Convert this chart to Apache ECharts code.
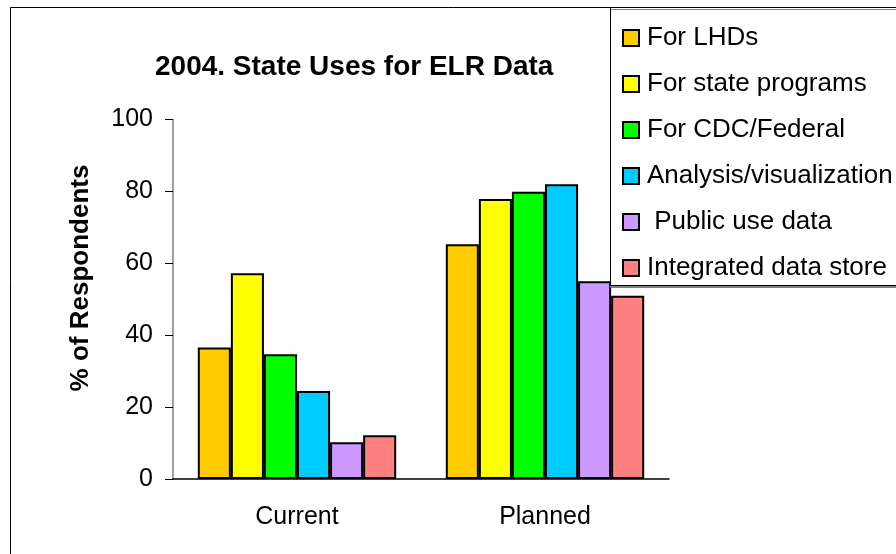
<!DOCTYPE html>
<html>
<head>
<meta charset="utf-8">
<script src="https://cdn.jsdelivr.net/npm/echarts@6/dist/echarts.min.js"></script>
<style>
html,body{margin:0;padding:0;background:#fff;}
#chart{width:896px;height:554px;}
</style>
</head>
<body>
<div id="chart"></div>
<script>
var categories = ['Current', 'Planned'];
var seriesNames = ['For LHDs', 'For state programs', 'For CDC/Federal', 'Analysis/visualization', ' Public use data', 'Integrated data store'];
var forLHDs = [36.6, 65.3];
var forStatePrograms = [57.2, 77.9];
var forCDCFederal = [34.7, 79.9];
var analysisVisualization = [24.5, 82.0];
var publicUseData = [10.2, 55.0];
var integratedDataStore = [12.2, 51.0];
var seriesColors = ['#FFCC00', '#FFFF00', '#00FF00', '#00CCFF', '#CC99FF', '#FF8080'];
var yTicks = [0, 20, 40, 60, 80, 100];

var allValues = [forLHDs, forStatePrograms, forCDCFederal, analysisVisualization, publicUseData, integratedDataStore];
var FONT = 'Liberation Sans, Arial, sans-serif';

var chart = echarts.init(document.getElementById('chart'));
var series = seriesNames.map(function (n, i) {
  return {
    name: n,
    type: 'bar',
    data: allValues[i],
    barGap: '0%',
    barCategoryGap: '20%',
    itemStyle: { color: seriesColors[i], borderColor: '#000', borderWidth: 2 }
  };
});

chart.setOption({
  animation: false,
  backgroundColor: '#fff',
  grid: { left: 173, right: 227, top: 119.5, bottom: 75, containLabel: false },
  xAxis: {
    type: 'category',
    data: categories,
    axisLine: { lineStyle: { color: '#000', width: 1.5 } },
    axisTick: { show: false },
    axisLabel: { fontFamily: FONT, fontSize: 25, color: '#000', margin: 26 }
  },
  yAxis: {
    type: 'value',
    min: yTicks[0], max: yTicks[yTicks.length - 1], interval: 20,
    splitLine: { show: false },
    axisLine: { show: true, lineStyle: { color: '#808080', width: 1.5 } },
    axisTick: { show: true, inside: false, length: 8, lineStyle: { color: '#000' } },
    axisLabel: { fontFamily: FONT, fontSize: 25, color: '#000', margin: 20 }
  },
  legend: {
    orient: 'vertical',
    left: 617, top: 20,
    itemWidth: 16, itemHeight: 16, itemGap: 20,
    icon: 'rect',
    z: 20,
    textStyle: { fontFamily: FONT, fontSize: 26, color: '#000', lineHeight: 26, padding: [0, 0, 0, 3] },
    data: seriesNames
  },
  graphic: [
    { type: 'rect', z: -10, shape: { x: 10.5, y: 7.5, width: 1000, height: 1000 }, style: { fill: 'none', stroke: '#000', lineWidth: 1 } },
    { type: 'rect', z: 15, shape: { x: 610.5, y: 7.5, width: 400, height: 278 }, style: { fill: '#fff', stroke: '#000', lineWidth: 1, shadowColor: '#808080', shadowOffsetY: 2, shadowBlur: 0 } },
    { type: 'text', z: 15, x: 155, y: 67, style: { text: '2004. State Uses for ELR Data', fontFamily: FONT, fontSize: 28, fontWeight: 'bold', fill: '#000', align: 'left', verticalAlign: 'middle' } },
    { type: 'text', z: 15, x: 81, y: 278, rotation: Math.PI / 2, style: { text: '% of Respondents', fontFamily: FONT, fontSize: 26, fontWeight: 'bold', fill: '#000', align: 'center', verticalAlign: 'middle' } }
  ],
  series: series
});
</script>
</body>
</html>
